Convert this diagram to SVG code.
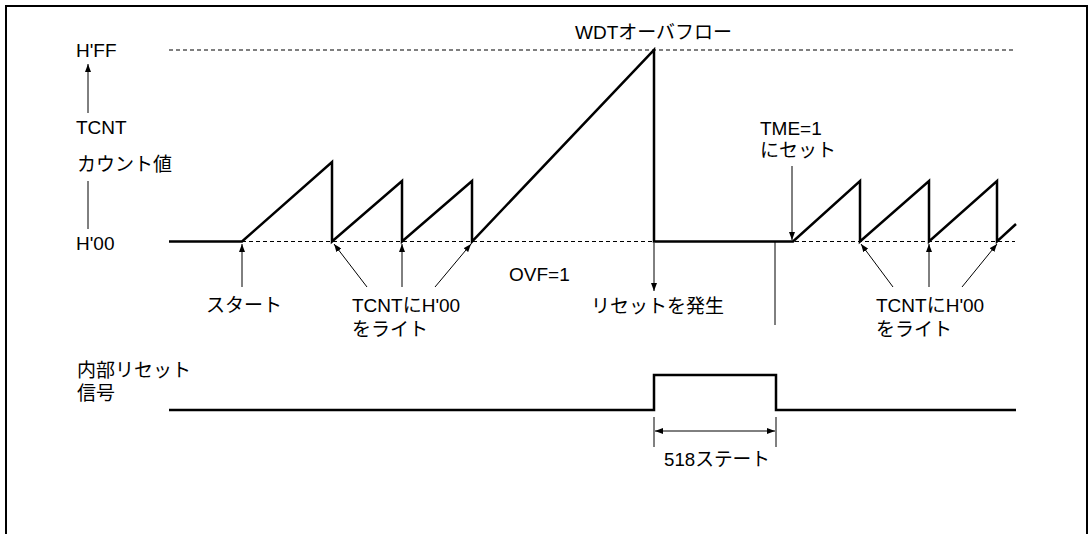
<svg xmlns="http://www.w3.org/2000/svg" width="1089" height="534" viewBox="0 0 1089 534">
<style>
text{font-family:"Liberation Sans","Noto Sans CJK JP",sans-serif;font-size:19px;fill:#000}
.wave{fill:none;stroke:#000;stroke-width:2.5;stroke-linejoin:miter}
.dash{fill:none;stroke:#000;stroke-width:1.2;stroke-dasharray:4 3}
.arr{fill:none;stroke:#000;stroke-width:1}
</style>
<defs>
<marker id="ah" viewBox="0 0 8 6" refX="8" refY="3" markerWidth="8" markerHeight="6" markerUnits="userSpaceOnUse" orient="auto-start-reverse">
<path d="M0,0 L8,3 L0,6 Z" fill="#000"/>
</marker>
</defs>
<rect x="6" y="6" width="1081" height="600" fill="#fff" stroke="#000" stroke-width="2"/>
<g id="guides">
<line class="dash" x1="169" y1="50" x2="1015" y2="50"/>
<line class="dash" x1="242" y1="241.5" x2="1015" y2="241.5"/>
</g>
<g id="tcnt-wave">
<path class="wave" d="M169,241.5 H242 L332,162 V241.5 L402,181 V241.5 L472,181 V241.5 L654,50 V241.5 H793 L860,181 V241.5 L929,181 V241.5 L997,181 V241.5 L1016,224"/>
</g>
<g id="reset-wave">
<path class="wave" d="M169,410 H654 V375 H776 V410 H1016"/>
</g>
<g id="connectors">
<line class="arr" x1="88" y1="113" x2="88" y2="64" marker-end="url(#ah)"/>
<line class="arr" x1="88" y1="181" x2="88" y2="229"/>
<line class="arr" x1="242" y1="287" x2="242" y2="244" marker-end="url(#ah)"/>
<line class="arr" x1="367" y1="287" x2="334" y2="244" marker-end="url(#ah)"/>
<line class="arr" x1="402" y1="287" x2="402" y2="244" marker-end="url(#ah)"/>
<line class="arr" x1="435" y1="287" x2="471" y2="244" marker-end="url(#ah)"/>
<line class="arr" x1="654" y1="243" x2="654" y2="291" marker-end="url(#ah)"/>
<line class="arr" x1="775" y1="242" x2="775" y2="325"/>
<line class="arr" x1="792" y1="166" x2="792" y2="240" marker-end="url(#ah)"/>
<line class="arr" x1="893" y1="287" x2="861" y2="244" marker-end="url(#ah)"/>
<line class="arr" x1="929" y1="287" x2="929" y2="244" marker-end="url(#ah)"/>
<line class="arr" x1="962" y1="287" x2="997" y2="244" marker-end="url(#ah)"/>
<line class="arr" x1="654" y1="417" x2="654" y2="447"/>
<line class="arr" x1="776" y1="417" x2="776" y2="447"/>
<line class="arr" x1="655" y1="431" x2="775" y2="431" marker-start="url(#ah)" marker-end="url(#ah)"/>
</g>
<g id="labels">
<text x="76" y="57">H'FF</text>
<text x="76" y="134">TCNT</text>
<text x="77" y="171">カウント値</text>
<text x="76" y="250">H'00</text>
<text x="575" y="39">WDTオーバフロー</text>
<text x="760" y="135">TME=1</text>
<text x="760" y="157">にセット</text>
<text x="509" y="281">OVF=1</text>
<text x="206" y="312">スタート</text>
<text x="352" y="312">TCNTにH'00</text>
<text x="352" y="336">をライト</text>
<text x="591" y="313">リセットを発生</text>
<text x="876" y="312">TCNTにH'00</text>
<text x="876" y="336">をライト</text>
<text x="77" y="377">内部リセット</text>
<text x="77" y="400">信号</text>
<text x="664" y="466" textLength="106" lengthAdjust="spacingAndGlyphs">518ステート</text>
</g>
</svg>
